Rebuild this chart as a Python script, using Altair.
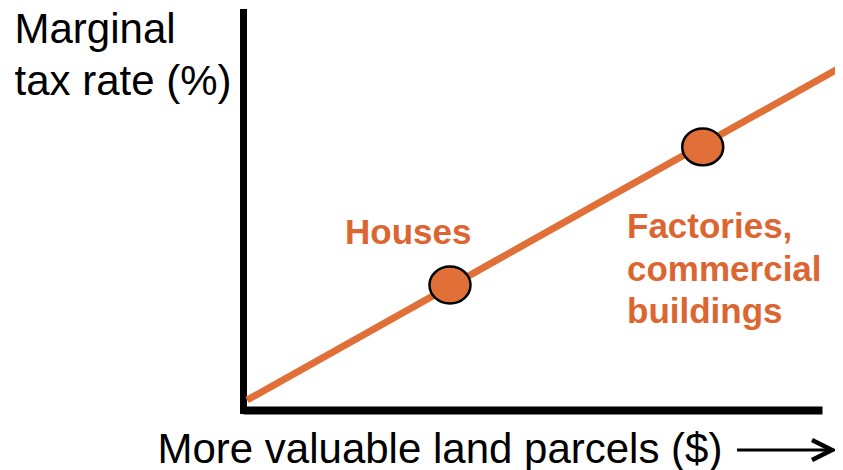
import altair as alt
import pandas as pd

# ---- data (abstract units: 0-100 on each axis) ----
line_x = [0.7, 103.6]
line_y = [2.5, 86.4]
point_labels = ["Houses", "Factories, commercial buildings"]
point_x = [35.75, 79.4]
point_y = [31.4, 66.1]

y_title = ["Marginal", "tax rate (%)"]
x_title = "More valuable land parcels ($)"
houses_label = "Houses"
factory_label = ["Factories,", "commercial", "buildings"]

ORANGE = "#E07038"
TEXT_ORANGE = "#DC6631"
FONT = "Liberation Sans"
ELLIPSE = "M -1.08 0 A 1.08 0.97 0 1 0 1.08 0 A 1.08 0.97 0 1 0 -1.08 0 Z"

line_df = pd.DataFrame({"value": line_x, "rate": line_y})
pts_df = pd.DataFrame({"parcel": point_labels, "value": point_x, "rate": point_y})
dummy = pd.DataFrame({"a": [0]})

xs = alt.Scale(domain=[0, 100], nice=False, zero=False)
ys = alt.Scale(domain=[0, 100], nice=False, zero=False)

x_axis = alt.Axis(
    title=x_title, ticks=False, labels=False, grid=False,
    domainColor="black", domainWidth=8,
    titleFont=FONT, titleFontSize=42, titleFontWeight="normal", titleColor="black",
    titleAlign="left", titleBaseline="alphabetic", titleX=-86, titleY=52,
)
y_axis = alt.Axis(
    title=y_title, ticks=False, labels=False, grid=False,
    domainColor="black", domainWidth=7, domainCap="square",
    titleAngle=0, titleFont=FONT, titleFontSize=42, titleFontWeight="normal",
    titleColor="black", titleAlign="left", titleBaseline="alphabetic",
    titleX=-229, titleY=30, titleLineHeight=52,
)

line = alt.Chart(line_df).mark_line(color=ORANGE, strokeWidth=7).encode(
    x=alt.X("value:Q", scale=xs, axis=x_axis),
    y=alt.Y("rate:Q", scale=ys, axis=y_axis),
)

pts = alt.Chart(pts_df).mark_point(
    shape=ELLIPSE, filled=True, fill=ORANGE, stroke="black",
    strokeWidth=2.5, opacity=1, size=1444,
).encode(x="value:Q", y="rate:Q")

houses = alt.Chart(dummy).mark_text(
    text=houses_label, font=FONT, fontSize=35, fontWeight="bold",
    color=TEXT_ORANGE, align="left", baseline="alphabetic",
).encode(x=alt.value(102), y=alt.value(232))

factories = alt.Chart(dummy).mark_text(
    text=factory_label, font=FONT, fontSize=35, fontWeight="bold",
    color=TEXT_ORANGE, align="left", baseline="alphabetic", lineHeight=42.5,
).encode(x=alt.value(384), y=alt.value(226))

arrow_shaft = alt.Chart(dummy).mark_rule(color="black", strokeWidth=3).encode(
    x=alt.value(494), x2=alt.value(586), y=alt.value(438)
)
arrow_head = alt.Chart(dummy).mark_point(
    shape="M -2 -1 L 0 0 L -2 1", filled=False, stroke="black",
    strokeWidth=4.5, size=400, opacity=1, strokeJoin="miter",
).encode(x=alt.value(589), y=alt.value(438))

chart = alt.layer(line, pts, houses, factories, arrow_shaft, arrow_head).properties(
    width=579, height=398,
    autosize=alt.AutoSizeParams(type="none"),
    padding={"left": 235, "top": 4, "right": 13, "bottom": 60},
    background="white",
).configure_view(stroke=None)

chart.save("out.html", embed_options={"renderer": "svg", "actions": False})
